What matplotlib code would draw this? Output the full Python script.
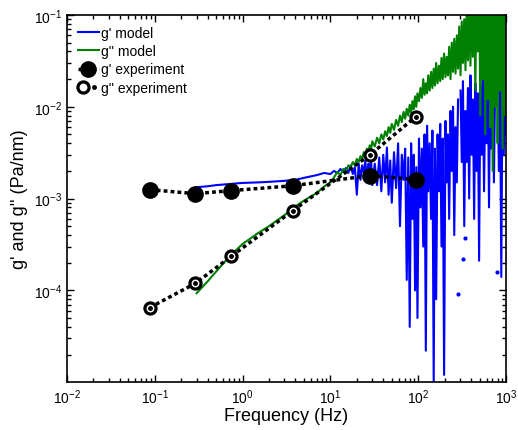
import matplotlib
matplotlib.use("Agg")
import matplotlib.pyplot as plt
import numpy as np
from matplotlib.legend_handler import HandlerTuple

plt.rcParams['font.family'] = ['Liberation Sans', 'DejaVu Sans']
plt.rcParams['mathtext.fontset'] = 'custom'
plt.rcParams['mathtext.rm'] = 'Liberation Sans'

# experiment points
exp_freq = [0.088, 0.29, 0.74, 3.75, 28.3, 94]
gp_exp = [1.25e-3, 1.13e-3, 1.22e-3, 1.38e-3, 1.78e-3, 1.61e-3]
gpp_exp = [6.5e-5, 1.19e-4, 2.34e-4, 7.4e-4, 3.0e-3, 7.8e-3]

# model curves
model_freq = [
    0.3, 0.4, 0.5, 0.7, 1.0, 1.5, 2.0, 3.0, 4.0, 5.0,
    7.0, 8.5, 10, 11, 12, 13, 14, 15, 16, 17,
    18, 19, 20, 21, 22, 23, 24, 25, 26, 27,
    28, 29, 30, 32, 34, 36, 38, 40, 42, 44,
    46, 48, 50, 53, 56, 59, 62, 65, 68, 71,
    74, 77, 80, 83, 86, 89, 92, 95, 98, 102,
    106, 110, 114, 118, 122, 126, 130, 135, 140, 145,
    150, 155, 160, 166, 172, 178, 184, 190, 197, 204,
    211, 218, 225, 233, 241, 249, 257, 266, 275, 284,
    293, 303, 313, 323, 334, 345, 356, 368, 380, 393,
    406, 419, 433, 447, 462, 477, 493, 509, 526, 543,
    561, 580, 599, 619, 639, 660, 682, 704, 727, 751,
    776, 801, 827, 854, 882, 911, 941, 972, 1000]

gp_model = [
    1.33e-3, 1.36e-3, 1.40e-3, 1.44e-3, 1.48e-3, 1.50e-3, 1.52e-3, 1.56e-3, 1.60e-3, 1.68e-3,
    1.80e-3, 1.90e-3, 1.85e-3, 2.0e-3, 1.9e-3, 2.1e-3, 1.95e-3, 2.15e-3, 1.9e-3, 2.3e-3,
    1.85e-3, 2.2e-3, 1.1e-3, 2.4e-3, 1.6e-3, 2.3e-3, 1.9e-3, 2.6e-3, 1.5e-3, 2.4e-3,
    1.9e-3, 2.7e-3, 1.4e-3, 2.4e-3, 1.4e-3, 2.8e-3, 1.2e-3, 3.0e-3, 1.5e-3, 3.6e-3,
    1.1e-3, 2.6e-3, 9e-4, 3.2e-3, 1.3e-3, 4.0e-3, 5e-4, 3.0e-3, 1.6e-3, 3.5e-3,
    1.3e-4, 2.8e-3, 4e-5, 4.0e-3, 6e-4, 3.0e-3, 1.0e-4, 2.2e-3, 5e-5, 4.5e-3,
    8e-4, 3.5e-3, 3e-4, 5.0e-3, 2.2e-5, 6.2e-3, 1.2e-3, 4.0e-3, 6e-4, 5.5e-3,
    1.0e-5, 3.5e-3, 8e-5, 5.0e-3, 1.2e-3, 6.5e-3, 3e-4, 4.5e-3, 1.2e-5, 7.0e-3,
    1.5e-3, 5.0e-3, 6e-4, 9.0e-3, 2.0e-3, 1.0e-2, 4e-4, 6.0e-3, 1.5e-3, 1.2e-2,
    np.nan, 1.5e-2, 2.5e-3, 1.9e-2, 5e-4, 9.0e-3, 2.5e-3, 1.6e-2, 1.0e-3, 2.2e-2,
    3e-3, 1.2e-2, 6e-4, 1.8e-2, 2e-3, 1.4e-2, 2.1e-4, 1.7e-2, 3e-3, 2.5e-2,
    1.2e-3, 1.5e-2, 4e-3, 3.0e-2, 8e-4, 2.0e-2, 3.5e-3, 2.8e-2, 1.5e-3, 1.8e-2,
    np.nan, 2.5e-2, 2e-3, 1.6e-2, 1.4e-4, 2.2e-2, 3e-3, 1.8e-2, 5e-3]

gpp_model = [
    9.3e-5, 1.25e-4, 1.6e-4, 2.3e-4, 3.2e-4, 4.2e-4, 5.0e-4, 6.6e-4, 8.2e-4, 9.5e-4,
    1.15e-3, 1.35e-3, 1.5e-3, 1.7e-3, 1.95e-3, 1.8e-3, 2.1e-3, 2.0e-3, 2.3e-3, 2.2e-3,
    2.5e-3, 2.3e-3, 2.7e-3, 2.5e-3, 2.9e-3, 2.7e-3, 3.2e-3, 2.9e-3, 3.5e-3, 3.1e-3,
    3.8e-3, 3.4e-3, 4.2e-3, 3.7e-3, 4.6e-3, 4.0e-3, 5.0e-3, 4.4e-3, 5.4e-3, 4.8e-3,
    6.0e-3, 5.2e-3, 6.5e-3, 5.6e-3, 7.2e-3, 6.2e-3, 8.0e-3, 6.8e-3, 8.8e-3, 7.4e-3,
    9.5e-3, 8.0e-3, 1.05e-2, 8.6e-3, 1.15e-2, 9.4e-3, 1.3e-2, 1.0e-2, 1.4e-2, 1.15e-2,
    1.6e-2, 1.25e-2, 2.0e-2, 1.35e-2, 1.8e-2, 1.4e-2, 2.2e-2, 1.5e-2, 2.4e-2, 1.6e-2,
    2.6e-2, 1.7e-2, 3.0e-2, 1.8e-2, 2.8e-2, 1.9e-2, 3.4e-2, 2.0e-2, 3.8e-2, 2.1e-2,
    3.5e-2, 2.2e-2, 4.5e-2, 2.0e-2, 5.0e-2, 2.4e-2, 5.5e-2, 2.3e-2, 6.0e-2, 2.6e-2,
    7.5e-2, 2.2e-2, 8.5e-2, 3.0e-2, 9.0e-2, 2.5e-2, 1.2e-1, 3.2e-2, 1.5e-1, 2.8e-2,
    2.0e-1, 3.5e-2, 1.8e-1, 1.5e-2, 2.5e-1, 4.0e-2, 2.2e-1, 8e-3, 3.0e-1, 2.0e-2,
    2.5e-1, 5e-3, 3.0e-1, 1.2e-2, 2.8e-1, 6e-3, 3.5e-1, 2.0e-3, 2.5e-1, 1.0e-2,
    3.0e-1, 4e-3, 2.8e-1, 1.5e-2, 3.0e-1, 3.5e-3, 2.5e-1, 8e-3, 3e-1]

# lone points of g' where neighbours drop out
gp_dot_freq = [284, 324, 341, 789]
gp_dot_vals = [9.1e-5, 2.2e-4, 3.7e-4, 1.6e-4]

fig = plt.figure(figsize=(5.18, 4.31), dpi=100)
ax = fig.add_axes([0.129, 0.111, 0.848, 0.852])

h1, = ax.loglog(model_freq, gp_model, color=(0, 0, 1), lw=1.5)
ax.loglog(gp_dot_freq, gp_dot_vals, ls='none', marker='o', ms=2, color=(0, 0, 1))
h2, = ax.loglog(model_freq, gpp_model, color=(0, 0.5, 0), lw=1.5)

dash = (0, (1.1, 0.9))
h3, = ax.loglog(exp_freq, gp_exp, color='black', ls=dash, lw=2.5,
                marker='o', ms=11, mfc='black', mec='black')
h4, = ax.loglog(exp_freq, gpp_exp, color='black', ls=dash, lw=2.5,
                marker='o', ms=8, mfc='white', mec='black', mew=2.3)
h5, = ax.loglog(exp_freq, gpp_exp, ls='none', marker='o', ms=2.5, color='black')

ax.set_xlim(1e-2, 1e3)
ax.set_ylim(1e-5, 1e-1)
ax.set_yticks([1e-4, 1e-3, 1e-2, 1e-1])
ax.set_xticks([1e-2, 1e-1, 1e0, 1e1, 1e2, 1e3])
ax.tick_params(which='both', direction='in', top=True, right=True, labelsize=10, width=1)
ax.tick_params(which='major', length=5)
ax.tick_params(which='minor', length=3)
for s in ax.spines.values():
    s.set_linewidth(1.2)

ax.set_xlabel('Frequency (Hz)', fontsize=13, labelpad=1)
ax.set_ylabel("g' and g'' (Pa/nm)", fontsize=13, labelpad=4)

ax.legend([h1, h2, h3, (h4, h5)], ["g' model", "g'' model", "g' experiment", "g'' experiment"],
          handler_map={tuple: HandlerTuple(ndivide=None, pad=0)},
          loc='upper left', frameon=False, fontsize=10, handlelength=1.5,
          handletextpad=0.15, labelspacing=0.3, borderaxespad=0.4, borderpad=0.4)

plt.savefig('out.png', dpi=100)
